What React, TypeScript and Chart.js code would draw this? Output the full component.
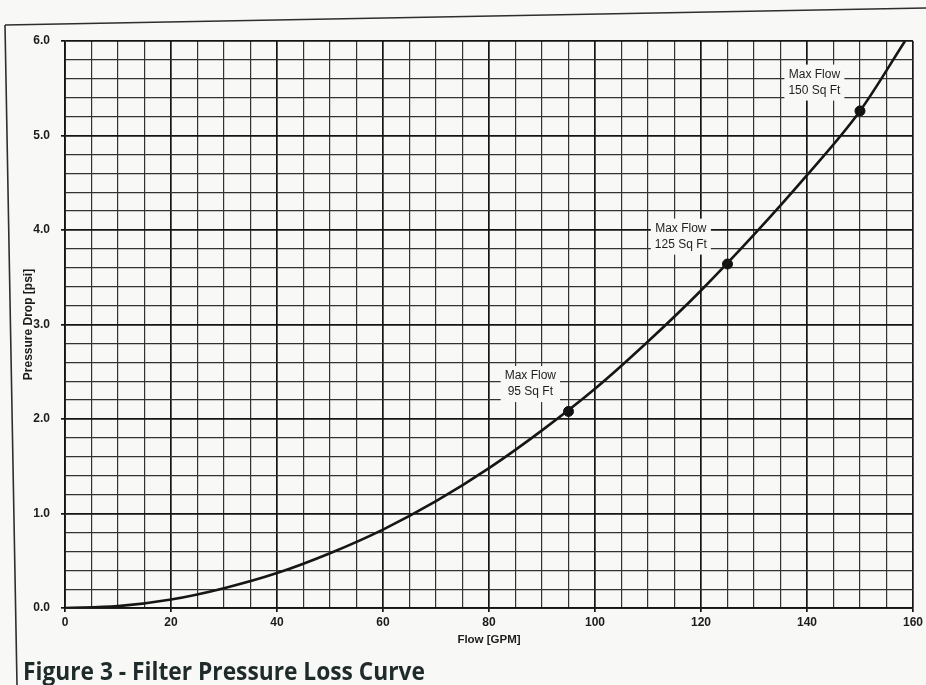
import { useEffect, useRef } from 'react';
import { Chart, registerables } from 'chart.js';

Chart.register(...registerables);

// Curve: flow [GPM] vs pressure drop [psi]
const flowGpm = [0, 10, 20, 30, 40, 50, 60, 70, 80, 90, 100, 110, 120, 130, 140, 150, 158.5];
const pressurePsi = [0, 0.02, 0.09, 0.21, 0.37, 0.58, 0.83, 1.13, 1.48, 1.88, 2.32, 2.82, 3.36, 3.95, 4.58, 5.26, 6.0];

// Max-flow markers
const markerGpm = [95, 125, 150];
const markerPsi = [2.08, 3.64, 5.26];
const markerTitle = ['Max Flow', 'Max Flow', 'Max Flow'];
const markerArea = ['95 Sq Ft', '125 Sq Ft', '150 Sq Ft'];
// label centres, in data units
const labelGpm = [87.8, 116.2, 141.4];
const labelPsi = [2.37, 3.93, 5.56];

const xMajorStep = 20;
const yMajorStep = 1;

const caption = 'Figure 3 - Filter Pressure Loss Curve';

export default function App() {
  const ref = useRef<HTMLCanvasElement | null>(null);

  useEffect(() => {
    document.body.style.margin = '0';
    const canvas = ref.current;
    if (!canvas) return;

    const isMajorX = (v: number) => Math.abs(v / xMajorStep - Math.round(v / xMajorStep)) < 1e-6;
    const isMajorY = (v: number) => Math.abs(v / yMajorStep - Math.round(v / yMajorStep)) < 1e-6;

    const decor = {
      id: 'decor',
      beforeDraw(chart: any) {
        const c = chart.ctx;
        c.save();
        c.fillStyle = '#f8f9f6';
        c.fillRect(0, 0, chart.width, chart.height);
        // scanned page frame
        c.strokeStyle = '#2e2e2e';
        c.lineWidth = 1.6;
        c.beginPath();
        c.moveTo(5, 25);
        c.lineTo(926, 8);
        c.moveTo(5, 25);
        c.lineTo(17, 685);
        c.stroke();
        c.restore();
      },
      afterDraw(chart: any) {
        const c = chart.ctx;
        const xs = chart.scales.x;
        const ys = chart.scales.y;
        c.save();
        c.font = '12px "Liberation Sans", Arial, sans-serif';
        c.textAlign = 'center';
        c.textBaseline = 'middle';
        for (let i = 0; i < labelGpm.length; i++) {
          const cx = xs.getPixelForValue(labelGpm[i]);
          const cy = ys.getPixelForValue(labelPsi[i]);
          const w = Math.max(c.measureText(markerTitle[i]).width, c.measureText(markerArea[i]).width) + 8;
          const h = 36;
          c.fillStyle = '#f8f9f6';
          c.fillRect(cx - w / 2, cy - h / 2, w, h);
          c.fillStyle = '#1e1e1e';
          c.fillText(markerTitle[i], cx, cy - 8);
          c.fillText(markerArea[i], cx, cy + 8);
        }
        // caption
        c.font = 'bold 25px "Open Sans", sans-serif';
        c.textAlign = 'left';
        c.textBaseline = 'alphabetic';
        c.fillStyle = '#1f2a2a';
        const mw = c.measureText(caption).width;
        const target = 402;
        c.translate(23, 680);
        c.scale(target / mw, 1);
        c.fillText(caption, 0, 0);
        c.restore();
      },
    };

    const chart = new Chart(canvas, {
      type: 'scatter',
      data: {
        datasets: [
          {
            label: 'Pressure loss',
            data: flowGpm.map((x, i) => ({ x, y: pressurePsi[i] })),
            showLine: true,
            borderColor: '#161616',
            borderWidth: 2.6,
            pointRadius: 0,
            cubicInterpolationMode: 'monotone',
            fill: false,
          },
          {
            label: 'Max flow',
            data: markerGpm.map((x, i) => ({ x, y: markerPsi[i] })),
            showLine: false,
            pointRadius: 5,
            pointBackgroundColor: '#111',
            pointBorderColor: '#111',
          },
        ],
      },
      options: {
        responsive: false,
        animation: false,
        layout: { padding: { left: 0, top: 41, right: 10, bottom: 0 } },
        plugins: {
          legend: { display: false },
          tooltip: { enabled: false },
          title: { display: false },
        },
        scales: {
          x: {
            type: 'linear',
            min: 0,
            max: 160,
            afterFit: (s: any) => {
              s.height = 77;
            },
            ticks: {
              stepSize: 5,
              autoSkip: false,
              maxRotation: 0,
              padding: 3,
              color: '#1c1c1c',
              font: { family: '"Liberation Sans", Arial, sans-serif', size: 12, weight: 'bold' },
              callback: (v: any) => (isMajorX(Number(v)) ? String(v) : ''),
            },
            grid: {
              color: (ctx: any) => (ctx.tick && isMajorX(ctx.tick.value) ? '#151515' : '#333333'),
              lineWidth: (ctx: any) => (ctx.tick && isMajorX(ctx.tick.value) ? 1.7 : 1.2),
              tickColor: (ctx: any) => (ctx.tick && isMajorX(ctx.tick.value) ? '#151515' : 'rgba(0,0,0,0)'),
              tickLength: 4,
            },
            border: { display: true, color: '#151515', width: 1.7 },
            title: {
              display: true,
              text: 'Flow [GPM]',
              color: '#1c1c1c',
              font: { family: '"Liberation Sans", Arial, sans-serif', size: 11.5, weight: 'bold' },
              padding: { top: 0, bottom: 38 },
            },
          },
          y: {
            type: 'linear',
            min: 0,
            max: 6,
            afterFit: (s: any) => {
              s.width = 65;
            },
            ticks: {
              stepSize: 0.2,
              autoSkip: false,
              padding: 11,
              color: '#1c1c1c',
              font: { family: '"Liberation Sans", Arial, sans-serif', size: 12, weight: 'bold' },
              callback: (v: any) => (isMajorY(Number(v)) ? Number(v).toFixed(1) : ''),
            },
            grid: {
              color: (ctx: any) => (ctx.tick && isMajorY(ctx.tick.value) ? '#151515' : '#333333'),
              lineWidth: (ctx: any) => (ctx.tick && isMajorY(ctx.tick.value) ? 1.7 : 1.2),
              tickColor: (ctx: any) => (ctx.tick && isMajorY(ctx.tick.value) ? '#151515' : 'rgba(0,0,0,0)'),
              tickLength: 4,
            },
            border: { display: true, color: '#151515', width: 1.7 },
            title: {
              display: true,
              text: 'Pressure Drop [psi]',
              color: '#1c1c1c',
              font: { family: '"Liberation Sans", Arial, sans-serif', size: 12, weight: 'bold' },
              padding: { top: 21, bottom: 0 },
            },
          },
        },
      },
      plugins: [decor],
    } as any);

    return () => chart.destroy();
  }, []);

  return <canvas ref={ref} width={926} height={685} style={{ display: 'block' }} />;
}
